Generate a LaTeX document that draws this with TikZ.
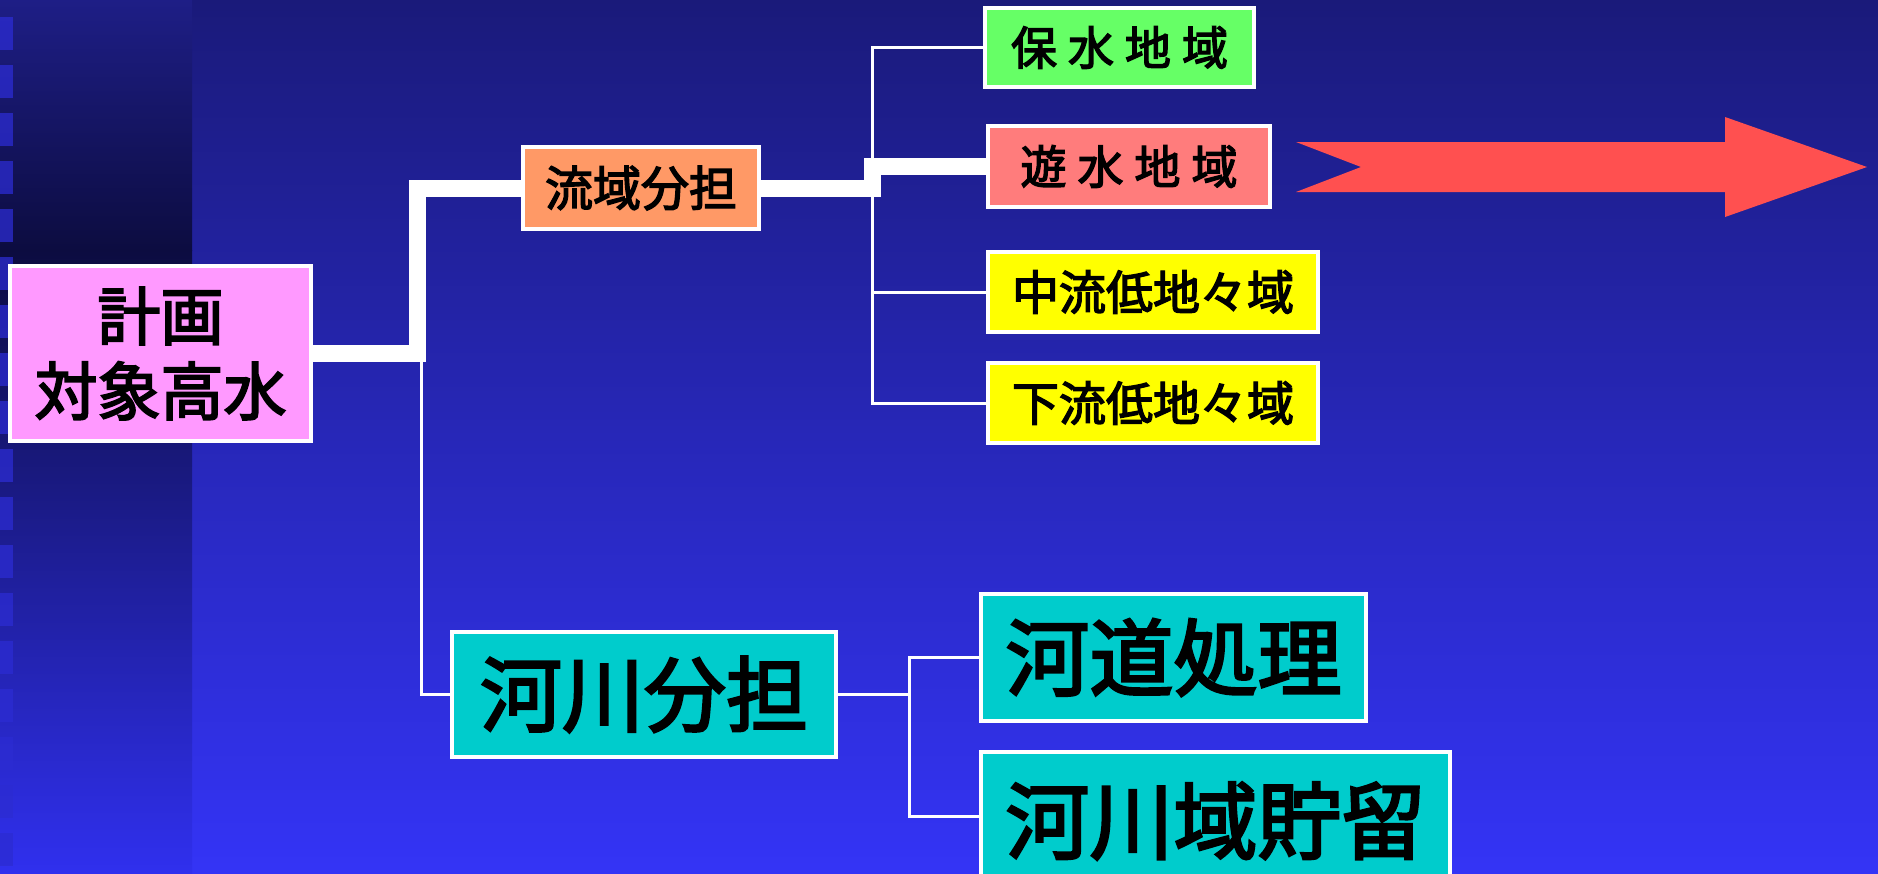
\documentclass[tikz,border=0pt]{standalone}
\usepackage{fontspec}
\setmainfont{Noto Sans CJK JP}[FakeBold=3]
\definecolor{bgtop}{HTML}{1A1A7A}
\definecolor{bgbot}{HTML}{3434F6}
\definecolor{sttop}{HTML}{1E1E86}
\definecolor{stmid}{HTML}{0C0C40}
\definecolor{stbot}{HTML}{3030EE}
\definecolor{sqcol}{HTML}{2C2CD2}
\definecolor{cpink}{HTML}{FF99FF}
\definecolor{corange}{HTML}{FF9966}
\definecolor{cgreen}{HTML}{66FF66}
\definecolor{csalmon}{HTML}{FF7C7C}
\definecolor{cyellow}{HTML}{FFFF00}
\definecolor{cteal}{HTML}{00CCCC}
\definecolor{cred}{HTML}{FF5050}
\begin{document}
\begin{tikzpicture}[x=1pt,y=-1pt,
  box/.style={draw=white, line width=3.5pt, inner sep=0pt, text=black, align=center},
  thickw/.style={draw=white, line width=17pt, line join=miter},
  thinw/.style={draw=white, line width=3pt},
  sq/.style={fill=sqcol, fill opacity=0.75}]
\useasboundingbox (0,0) rectangle (1878,873);
% background
\shade[top color=bgtop, bottom color=bgbot] (0,0) rectangle (1878,873);
\shade[top color=sttop, bottom color=stmid] (0,0) rectangle (192,250.5);
\shade[top color=stmid, bottom color=stbot] (0,250) rectangle (192,873);
\foreach \i in {0,...,17} \fill[sq] (0,17+48*\i) rectangle (12.5,50+48*\i);

% nodes
\node[box, fill=cpink, minimum width=301pt, minimum height=175pt,
  font=\fontsize{63}{75}\selectfont] (plan) at (160.5,353.5) {計画\\対象高水};
\node[box, fill=corange, minimum width=236pt, minimum height=82pt,
  font=\fontsize{48}{58}\selectfont] (ryuiki) at (641,188) {流域分担};
\node[box, fill=cgreen, minimum width=269pt, minimum height=79pt,
  font=\fontsize{46}{56}\selectfont] (hosui) at (1119.5,47.5) {保\hspace{11pt}水\hspace{11pt}地\hspace{11pt}域};
\node[box, fill=csalmon, minimum width=282pt, minimum height=81pt,
  font=\fontsize{46}{56}\selectfont] (yusui) at (1129,166.5) {遊\hspace{11pt}水\hspace{11pt}地\hspace{11pt}域};
\node[box, fill=cyellow, minimum width=330pt, minimum height=80pt,
  font=\fontsize{47}{56}\selectfont] (churyu) at (1153,292) {中流低地々域};
\node[box, fill=cyellow, minimum width=330pt, minimum height=80pt,
  font=\fontsize{47}{56}\selectfont] (karyu) at (1153,403) {下流低地々域};
\node[box, fill=cteal, minimum width=384pt, minimum height=125pt,
  font=\fontsize{82}{98}\selectfont] (kasen) at (644,694.5) {河川分担};
\node[box, fill=cteal, minimum width=385pt, minimum height=127pt,
  font=\fontsize{84}{100}\selectfont] (kado) at (1173.5,657.5) {河道処理};
\node[box, fill=cteal, minimum width=469pt, minimum height=138pt,
  font=\fontsize{84}{100}\selectfont] (chiryu) at (1215.5,821) {河川域貯留};

% connectors
\coordinate (j1) at (417,0);
\coordinate (j2) at (421,0);
\coordinate (j3) at (872.5,0);
\coordinate (j4) at (872,0);
\coordinate (j5) at (909,0);
\coordinate (j6) at (909,816);
\draw[thinw] (plan.east -| j2) |- (kasen.west);
\draw[thickw] (plan.east) -| (j1 |- ryuiki.west) -- (ryuiki.west);
\draw[thinw] (hosui.west) -| (j4 |- karyu.west) -- (karyu.west);
\draw[thinw] (j4 |- churyu.west) -- (churyu.west);
\draw[thickw] (ryuiki.east) -| (j3 |- yusui.west) -- (yusui.west);
\draw[thinw] (kasen.east) -- (j5 |- kasen.east);
\draw[thinw] (kado.west) -| (j6) -- (j6 -| chiryu.west);

% big arrow
\fill[cred] (1296,142) -- (1725,142) -- (1725,117) -- (1867,167) -- (1725,217)
  -- (1725,192) -- (1296,192) -- (1361,167) -- cycle;
\end{tikzpicture}
\end{document}
